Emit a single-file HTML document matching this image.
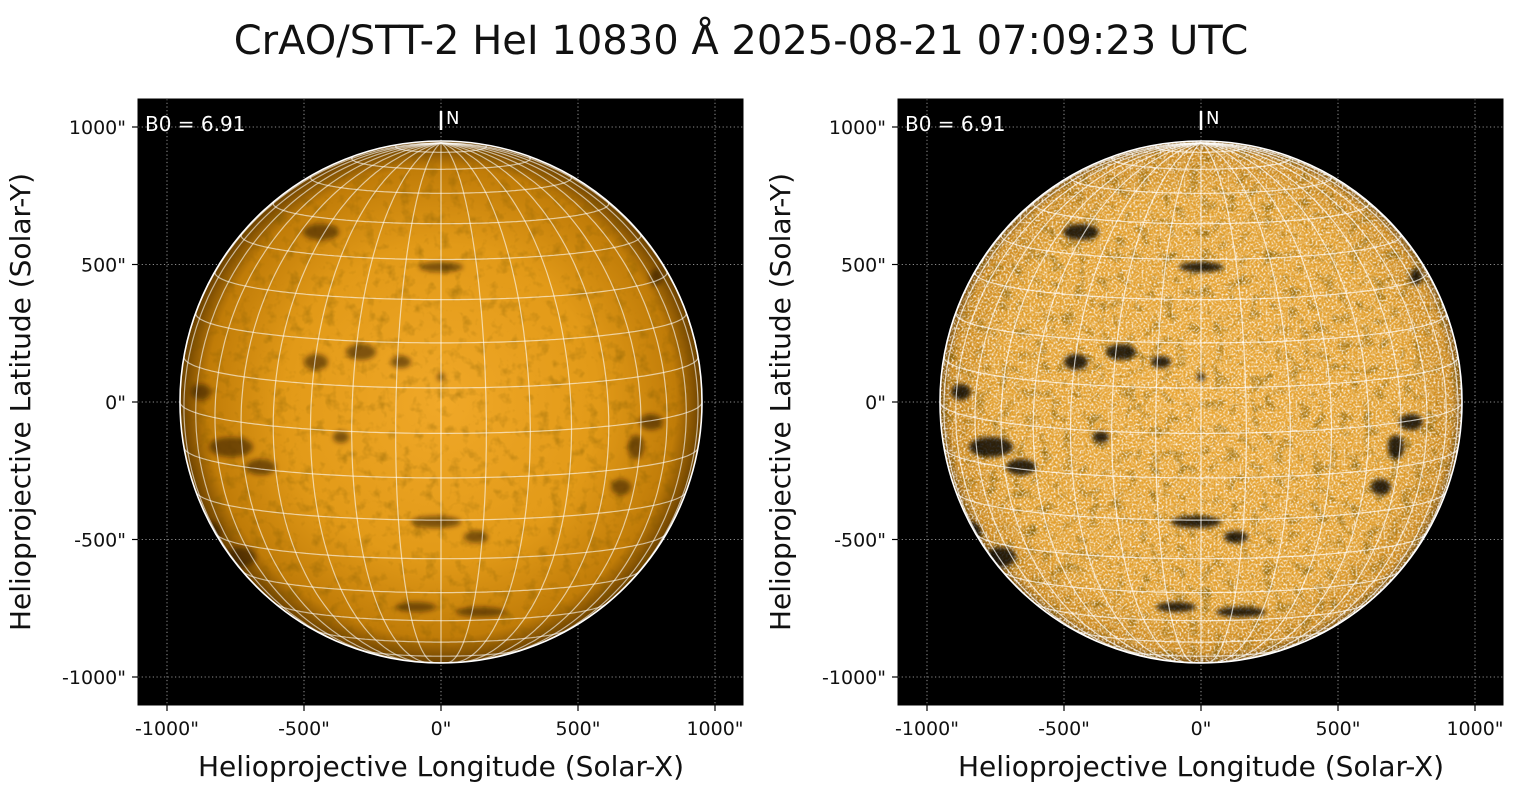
<!DOCTYPE html>
<html><head><meta charset="utf-8"><style>
body{margin:0;background:#fff;width:1520px;height:795px;overflow:hidden;font-family:"Liberation Sans","DejaVu Sans",sans-serif}
svg{position:absolute;left:0;top:0}
</style></head><body>
<svg id="s" width="1520" height="795" xmlns="http://www.w3.org/2000/svg" font-family="DejaVu Sans, Liberation Sans, sans-serif">
<defs>
<radialGradient id="g1" cx="0.5" cy="0.5" r="0.5">
<stop offset="0" stop-color="#f0a828"/><stop offset="0.6" stop-color="#e29a18"/><stop offset="0.9" stop-color="#c07c08"/><stop offset="1" stop-color="#6a4000"/>
</radialGradient>
<radialGradient id="g2" cx="0.5" cy="0.5" r="0.5">
<stop offset="0" stop-color="#eaa838"/><stop offset="0.8" stop-color="#e2a030"/><stop offset="0.96" stop-color="#cc8a20"/><stop offset="1" stop-color="#7a5010"/>
</radialGradient>
<filter id="n1"><feTurbulence type="fractalNoise" baseFrequency="0.5" numOctaves="2" seed="5"/><feColorMatrix values="0 0 0 0 1  0 0 0 0 1  0 0 0 0 1  0 0 0 -3 1.7"/><feComposite operator="in" in2="SourceGraphic"/></filter>
<filter id="n3"><feTurbulence type="fractalNoise" baseFrequency="0.08" numOctaves="3" seed="9"/><feColorMatrix values="0 0 0 0 0.2  0 0 0 0 0.1  0 0 0 0 0  0 0 0 -2.5 1.2"/><feComposite operator="in" in2="SourceGraphic"/></filter>
<filter id="bl"><feGaussianBlur stdDeviation="2.5"/></filter>
<clipPath id="c1"><circle cx="441" cy="402" r="261"/></clipPath>
<clipPath id="c2"><circle cx="1201" cy="402" r="261"/></clipPath>
</defs>
<text x="741" y="54" font-size="40" text-anchor="middle" fill="#111">CrAO/STT-2 HeI 10830 Å 2025-08-21 07:09:23 UTC</text>
</svg>
<script>
var s=document.getElementById('s'),NS='http://www.w3.org/2000/svg';
function el(t,a,p){var e=document.createElementNS(NS,t);for(var k in a)e.setAttribute(k,a[k]);(p||s).appendChild(e);return e;}
var B=6.91*Math.PI/180,R=261;
var blobs=[[-120,-170,18,8],[0,-135,22,5],[-240,-10,10,8],[-125,-40,12,8],[-80,-50,15,8],[-40,-40,10,6],[-210,45,22,10],[-180,65,15,8],[-170,-280,18,5],[210,20,12,8],[195,45,8,12],[-5,120,25,6],[35,135,12,6],[-25,205,20,5],[40,210,25,5],[-200,155,15,10],[180,85,10,8],[215,-125,6,8],[-230,130,10,10],[-100,35,8,6],[0,-25,4,4]];
function panel(ox,right){
 var cx=ox+303,cy=402;
 el('rect',{x:ox,y:99,width:605,height:606,fill:'#000'});
 [-1000,-500,0,500,1000].forEach(function(v){
  var x=cx+v*0.274,y=cy-v*0.275;
  el('line',{x1:x,y1:99,x2:x,y2:705,stroke:'#bbb','stroke-width':0.8,'stroke-dasharray':'1.2,2.5'});
  el('line',{x1:ox,y1:y,x2:ox+605,y2:y,stroke:'#bbb','stroke-width':0.8,'stroke-dasharray':'1.2,2.5'});
  var lab=v+'"';
  el('line',{x1:x,y1:705,x2:x,y2:711,stroke:'#000','stroke-width':1.2});
  el('text',{x:x,y:735,'font-size':19,'text-anchor':'middle',fill:'#111'}).textContent=lab;
  el('line',{x1:ox-6,y1:y,x2:ox,y2:y,stroke:'#000','stroke-width':1.2});
  el('text',{x:ox-12,y:y+7,'font-size':19,'text-anchor':'end',fill:'#111'}).textContent=lab;
 });
 var g=el('g',{'clip-path':'url(#'+(right?'c2':'c1')+')'});
 el('circle',{cx:cx,cy:cy,r:R,fill:right?'url(#g2)':'url(#g1)'},g);
 el('rect',{x:cx-R,y:cy-R,width:2*R,height:2*R,fill:'#fff',filter:'url(#n3)',opacity:right?0.8:0.4},g);
 if(right) el('rect',{x:cx-R,y:cy-R,width:2*R,height:2*R,fill:'#fff',filter:'url(#n1)',opacity:0.8},g);
 var bg=el('g',{filter:'url(#bl)'},g);
 blobs.forEach(function(b){el('ellipse',{cx:cx+b[0],cy:cy+b[1],rx:b[2],ry:b[3],fill:right?'#000':'#2a1600',opacity:right?0.8:0.55},bg);});
 function P(L,f){var x=R*Math.cos(f)*Math.sin(L),y=R*(Math.sin(f)*Math.cos(B)-Math.cos(f)*Math.cos(L)*Math.sin(B)),z=Math.sin(f)*Math.sin(B)+Math.cos(f)*Math.cos(L)*Math.cos(B);return [cx+x,cy-y,z];}
 function line(fn){var d='',pen=false;for(var i=0;i<=180;i++){var p=fn(i/180);if(p[2]>=0){d+=(pen?'L':'M')+p[0].toFixed(1)+','+p[1].toFixed(1);pen=true;}else pen=false;}el('path',{d:d,fill:'none',stroke:'#fff','stroke-opacity':right?0.7:0.6,'stroke-width':1.2},g);}
 var d2r=Math.PI/180;
 for(var L=-90;L<=90;L+=10)(function(L){line(function(t){return P(L*d2r,(-90+180*t)*d2r);});})(L);
 for(var f=-80;f<=80;f+=10)(function(f){line(function(t){return P((-100+200*t)*d2r,f*d2r);});})(f);
 el('circle',{cx:cx,cy:cy,r:R,fill:'none',stroke:'#fff','stroke-width':1.6});
 el('line',{x1:cx,y1:111,x2:cx,y2:130,stroke:'#fff','stroke-width':2.5});
 el('text',{x:cx+5,y:124,'font-size':18,fill:'#fff'}).textContent='N';
 el('text',{x:ox+7,y:131,'font-size':20,fill:'#fff'}).textContent='B0 = 6.91';
 el('rect',{x:ox,y:99,width:605,height:606,fill:'none',stroke:'#000','stroke-width':1});
 el('text',{x:cx,y:776,'font-size':28,'text-anchor':'middle',fill:'#111'}).textContent='Helioprojective Longitude (Solar-X)';
 var t=el('text',{x:0,y:0,'font-size':28,'text-anchor':'middle',fill:'#111',transform:'translate('+(ox-108)+',402) rotate(-90)'});t.textContent='Helioprojective Latitude (Solar-Y)';
}
panel(138,false);panel(898,true);
</script>
</body></html>
